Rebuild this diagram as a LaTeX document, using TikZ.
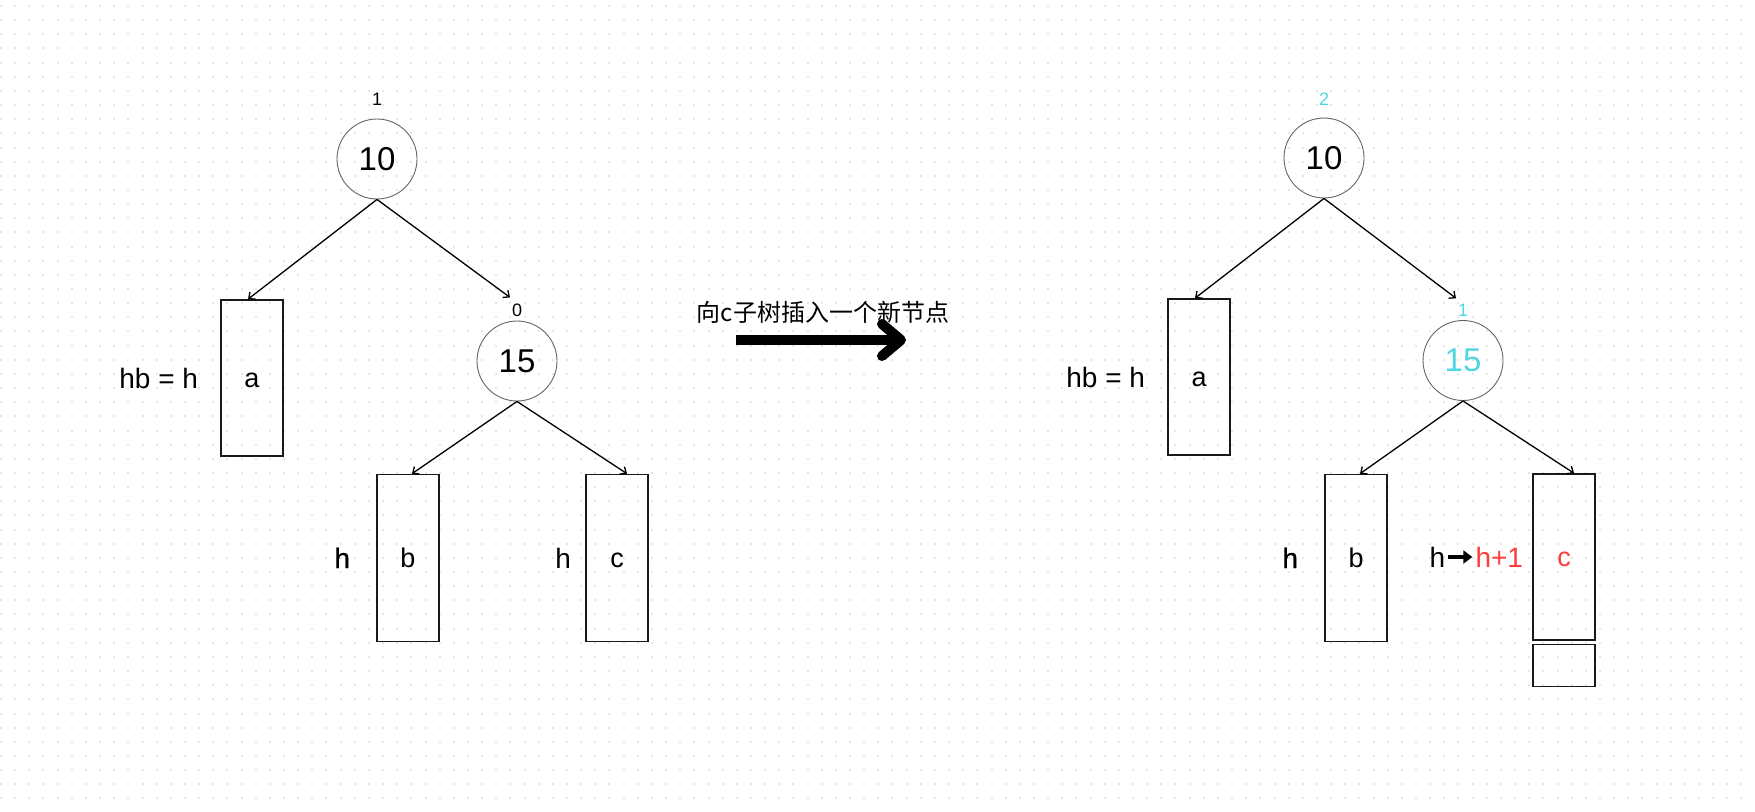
\documentclass[tikz,border=0pt]{standalone}
\usepackage{fontspec}
\setmainfont{Liberation Sans}
\newfontfamily\cjk{Noto Sans CJK SC}
\newfontfamily\semib[FakeBold=0.8]{Liberation Sans}
\usetikzlibrary{arrows.meta,positioning}
\definecolor{balcyan}{HTML}{4FD8E0}
\definecolor{newred}{HTML}{FF3B3B}
\definecolor{griddot}{HTML}{E6E6E6}

\begin{document}
\begin{tikzpicture}[
  x=1pt, y=-1pt,
  tnode/.style={circle, draw=black!60, line width=0.9pt, minimum size=80pt, inner sep=0pt, font=\fontsize{33}{38}\selectfont},
  tbox/.style={draw=black!90, line width=1.6pt, minimum width=62pt, inner sep=0pt, text height=19.5pt, text depth=0pt, font=\fontsize{27}{32}\selectfont},
  bal/.style={inner sep=0pt, font=\fontsize{18}{21}\selectfont},
  hlbl/.style={inner sep=0pt, text height=20pt, text depth=0pt, font=\fontsize{28}{32}\selectfont},
  arrow/.style={-{Straight Barb[length=5pt,width=9pt]}, line width=1.3pt}
]
  \useasboundingbox[fill=white] (0,0) rectangle (1755,811);

  % --- canvas dots ---
  \foreach \i in {0,...,123}
    \foreach \j in {0,...,56}
      \fill[griddot] ({14.15*\i},{5+14.15*\j}) rectangle ++(2,2);

  % --- Left tree: before insert ---
  \node[tnode] (l10) at (377,159) {10};
  \node[bal, above=13pt of l10] (l10h) {1};
  \node[tbox, minimum height=156pt] (la) at (252,378) {a};
  \node[hlbl, left=22pt of la] (lahb) {hb = h};
  \node[tnode] (l15) at (517,361) {15};
  \node[bal, above=4pt of l15] (l15h) {0};
  \node[tbox, minimum height=167pt] (lb) at (408,558) {b};
  \node[hlbl, font=\semib\fontsize{28}{32}\selectfont, left=26pt of lb] (lbh) {h};
  \node[tbox, minimum height=167pt] (lc) at (617,558) {c};
  \node[hlbl, left=14pt of lc] (lch) {h};
  \draw[arrow] (l10.south) -- ([xshift=-4pt]la.north);
  \draw[arrow] (l10.south) -- ([xshift=-7pt,yshift=6pt]l15h.north);
  \draw[arrow] (l15.south) -- ([xshift=4pt]lb.north);
  \draw[arrow] (l15.south) -- ([xshift=10pt]lc.north);

  % --- insert step ---
  \node[font=\cjk\fontsize{24}{28}\selectfont, inner sep=0pt] (msg) at (823,312) {向c子树插入一个新节点};
  \coordinate (mvs) at (736,340);
  \coordinate (mve) at (901,340);
  \draw[line width=10pt] (mvs) -- (mve);
  \draw[line width=10pt, line cap=round, line join=round] ([shift={(-19,-16)}]mve) -- (mve) -- ([shift={(-19,16)}]mve);

  % --- Right tree: after insert ---
  \node[tnode] (r10) at (1324,158) {10};
  \node[bal, text=balcyan, above=12pt of r10] (r10h) {2};
  \node[tbox, minimum height=156pt] (ra) at (1199,377) {a};
  \node[hlbl, left=22pt of ra] (rahb) {hb = h};
  \node[tnode, text=balcyan] (r15) at (1463,360.5) {15};
  \node[bal, text=balcyan, above=3pt of r15] (r15h) {1};
  \node[tbox, minimum height=167pt] (rb) at (1356,558) {b};
  \node[hlbl, font=\semib\fontsize{28}{32}\selectfont, left=26pt of rb] (rbh) {h};
  \node[tbox, minimum height=166pt, text=newred] (rc) at (1564,557) {c};
  \node[tbox, minimum height=42pt, below=3pt of rc] (rnew) {};
  \node[hlbl, text=newred, left=9pt of rc] (rch1) {h+1};
  \node[hlbl, left=30pt of rch1] (rch) {h};
  \draw[-{Triangle[length=9pt,width=13pt]}, line width=3.5pt] ([xshift=3pt]rch.east) -- ([xshift=-3pt]rch1.west);
  \draw[arrow] (r10.south) -- ([xshift=-4pt]ra.north);
  \draw[arrow] (r10.south) -- ([xshift=-7pt,yshift=6pt]r15h.north);
  \draw[arrow] (r15.south) -- ([xshift=4pt]rb.north);
  \draw[arrow] (r15.south) -- ([xshift=10pt]rc.north);

\end{tikzpicture}
\end{document}
